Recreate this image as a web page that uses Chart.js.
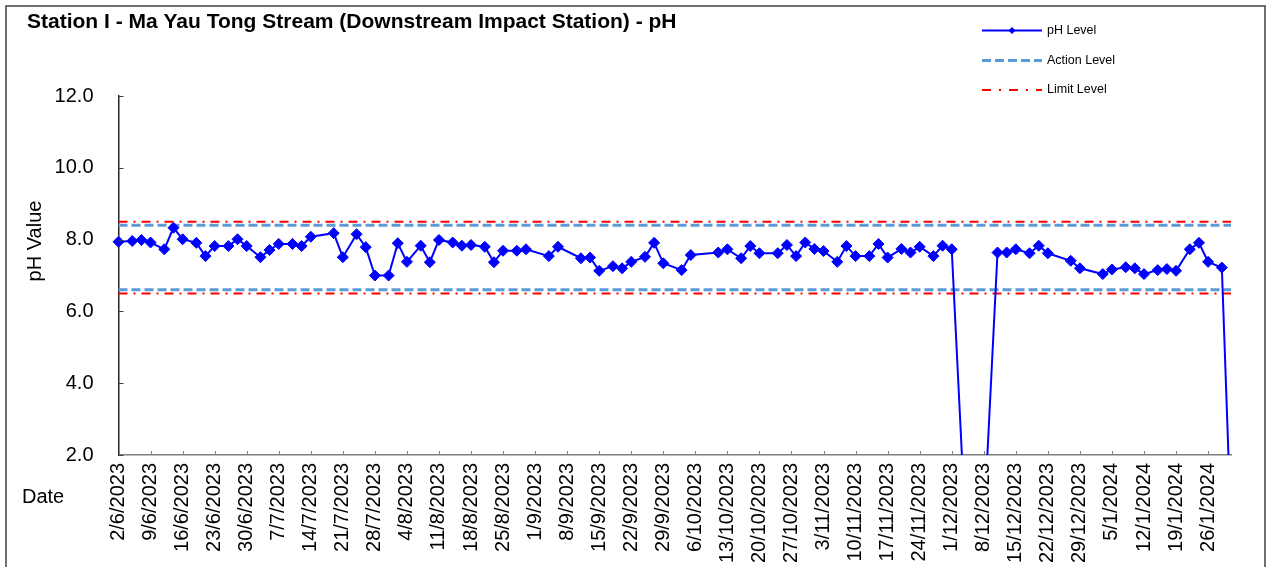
<!DOCTYPE html>
<html>
<head>
<meta charset="utf-8">
<script src="https://cdn.jsdelivr.net/npm/chart.js@4.4.0/dist/chart.umd.min.js"></script>
<style>
html,body{margin:0;padding:0;background:#fff;overflow:hidden}
#wrap{position:relative;width:1269px;height:567px}
canvas{display:block}
</style>
</head>
<body>
<div id="wrap"><canvas id="c" width="1269" height="567"></canvas></div>
<script>
// ---------------- data ----------------
const titleText = 'Station I - Ma Yau Tong Stream (Downstream Impact Station) - pH';
const yAxisTitle = 'pH Value';
const xAxisTitle = 'Date';
const seriesNames = ['pH Level', 'Action Level', 'Limit Level'];

const sampleDates = [
  '2/6/2023','5/6/2023','7/6/2023','9/6/2023','12/6/2023','14/6/2023','16/6/2023','19/6/2023','21/6/2023','23/6/2023',
  '26/6/2023','28/6/2023','30/6/2023','3/7/2023','5/7/2023','7/7/2023','10/7/2023','12/7/2023','14/7/2023','19/7/2023',
  '21/7/2023','24/7/2023','26/7/2023','28/7/2023','31/7/2023','2/8/2023','4/8/2023','7/8/2023','9/8/2023','11/8/2023',
  '14/8/2023','16/8/2023','18/8/2023','21/8/2023','23/8/2023','25/8/2023','28/8/2023','30/8/2023','4/9/2023','6/9/2023',
  '11/9/2023','13/9/2023','15/9/2023','18/9/2023','20/9/2023','22/9/2023','25/9/2023','27/9/2023','29/9/2023','3/10/2023',
  '5/10/2023','11/10/2023','13/10/2023','16/10/2023','18/10/2023','20/10/2023','24/10/2023','26/10/2023','28/10/2023','30/10/2023',
  '1/11/2023','3/11/2023','6/11/2023','8/11/2023','10/11/2023','13/11/2023','15/11/2023','17/11/2023','20/11/2023','22/11/2023',
  '24/11/2023','27/11/2023','29/11/2023','1/12/2023','4/12/2023','8/12/2023','11/12/2023','13/12/2023','15/12/2023','18/12/2023',
  '20/12/2023','22/12/2023','27/12/2023','29/12/2023','3/1/2024','5/1/2024','8/1/2024','10/1/2024','12/1/2024','15/1/2024',
  '17/1/2024','19/1/2024','22/1/2024','24/1/2024','26/1/2024','29/1/2024','31/1/2024'
];
const phValues = [
  7.94,7.96,7.99,7.92,7.73,8.33,8.01,7.91,7.54,7.82,
  7.82,8.01,7.82,7.51,7.71,7.88,7.88,7.82,8.08,8.18,
  7.51,8.15,7.79,7.00,7.00,7.90,7.38,7.83,7.37,7.99,
  7.92,7.83,7.85,7.80,7.37,7.69,7.69,7.73,7.54,7.80,
  7.48,7.50,7.13,7.26,7.20,7.38,7.52,7.91,7.34,7.15,
  7.57,7.64,7.73,7.48,7.82,7.62,7.62,7.85,7.54,7.92,
  7.74,7.68,7.38,7.82,7.54,7.54,7.88,7.50,7.74,7.64,
  7.80,7.54,7.83,7.73,0,0,7.64,7.64,7.73,7.62,
  7.83,7.62,7.41,7.20,7.04,7.17,7.23,7.20,7.04,7.15,
  7.18,7.13,7.73,7.91,7.38,7.22,0
];
const actionLevels = [8.4, 6.6];
const limitLevels = [8.5, 6.5];

const axisStart = '2/6/2023';
const axisEnd = '31/1/2024';
const xTickLabels = [
  '2/6/2023','9/6/2023','16/6/2023','23/6/2023','30/6/2023','7/7/2023','14/7/2023','21/7/2023','28/7/2023',
  '4/8/2023','11/8/2023','18/8/2023','25/8/2023','1/9/2023','8/9/2023','15/9/2023','22/9/2023','29/9/2023',
  '6/10/2023','13/10/2023','20/10/2023','27/10/2023','3/11/2023','10/11/2023','17/11/2023','24/11/2023',
  '1/12/2023','8/12/2023','15/12/2023','22/12/2023','29/12/2023','5/1/2024','12/1/2024','19/1/2024','26/1/2024'
];
const yTickValues = [2, 4, 6, 8, 10, 12];

// ---------------- helpers ----------------
const FONT = "'Liberation Sans', Arial, sans-serif";
function toUTC(s){ const p = s.split('/').map(Number); return Date.UTC(p[2], p[1]-1, p[0]); }
const originUTC = toUTC(axisStart);
function dayOf(s){ return Math.round((toUTC(s) - originUTC) / 86400000); }
const tickLabelByDay = {};
xTickLabels.forEach(t => { tickLabelByDay[dayOf(t)] = t; });
const levelLine = v => [{x: dayOf(axisStart), y: v}, {x: dayOf(axisEnd), y: v}];

const PH_COLOR = '#0000FF';
const ACTION_COLOR = '#5B9BD5';
const LIMIT_COLOR = '#FF0000';
const ACTION_DASH = [9, 4];
const LIMIT_DASH = [9, 6, 2, 6];

// ---------------- plugins ----------------
const decor = {
  id: 'decor',
  beforeDraw(chart){
    const ctx = chart.ctx;
    ctx.save();
    ctx.fillStyle = '#fff';
    ctx.fillRect(0, 0, chart.width, chart.height);
    ctx.strokeStyle = '#404040';
    ctx.lineWidth = 1.5;
    ctx.strokeRect(6, 6, 1259, 700);
    ctx.restore();
  },
  afterDraw(chart){
    const ctx = chart.ctx;
    const xs = chart.scales.x, ys = chart.scales.y;
    const a = chart.chartArea;
    ctx.save();
    // inside tick marks
    ctx.strokeStyle = '#404040';
    ctx.lineWidth = 1;
    ys.ticks.forEach(t => {
      const py = Math.round(ys.getPixelForValue(t.value)) + 0.5;
      ctx.beginPath(); ctx.moveTo(a.left, py); ctx.lineTo(a.left + 5, py); ctx.stroke();
    });
    ctx.strokeStyle = '#808080';
    xs.ticks.forEach(t => {
      const px = Math.round(xs.getPixelForValue(t.value)) + 0.5;
      ctx.beginPath(); ctx.moveTo(px, a.bottom); ctx.lineTo(px, a.bottom - 4); ctx.stroke();
    });
    // title
    ctx.fillStyle = '#000';
    ctx.textBaseline = 'middle';
    ctx.textAlign = 'left';
    ctx.font = "bold 21px " + FONT;
    ctx.fillText(titleText, 27, 22);
    // axis titles
    ctx.font = "20px " + FONT;
    ctx.fillText(xAxisTitle, 22, 497);
    ctx.save();
    ctx.translate(35, 241);
    ctx.rotate(-Math.PI / 2);
    ctx.textAlign = 'center';
    ctx.fillText(yAxisTitle, 0, 0);
    ctx.restore();
    // legend
    const lx0 = 982, lx1 = 1042, tx = 1047;
    const rows = [30.5, 60.5, 90];
    ctx.font = "12.5px " + FONT;
    // pH
    ctx.strokeStyle = PH_COLOR; ctx.lineWidth = 2; ctx.setLineDash([]);
    ctx.beginPath(); ctx.moveTo(lx0, rows[0]); ctx.lineTo(lx1, rows[0]); ctx.stroke();
    ctx.fillStyle = PH_COLOR;
    const cx = (lx0 + lx1) / 2, r = 3.5;
    ctx.beginPath(); ctx.moveTo(cx - r, rows[0]); ctx.lineTo(cx, rows[0] - r); ctx.lineTo(cx + r, rows[0]); ctx.lineTo(cx, rows[0] + r); ctx.closePath(); ctx.fill();
    // action
    ctx.strokeStyle = ACTION_COLOR; ctx.lineWidth = 3; ctx.setLineDash(ACTION_DASH);
    ctx.beginPath(); ctx.moveTo(lx0, rows[1]); ctx.lineTo(lx1, rows[1]); ctx.stroke();
    // limit
    ctx.strokeStyle = LIMIT_COLOR; ctx.lineWidth = 2; ctx.setLineDash([9, 8, 2, 8]);
    ctx.beginPath(); ctx.moveTo(lx0, rows[2]); ctx.lineTo(lx1, rows[2]); ctx.stroke();
    ctx.setLineDash([]);
    ctx.fillStyle = '#000';
    ctx.textAlign = 'left';
    seriesNames.forEach((n, i) => ctx.fillText(n, tx, rows[i]));
    ctx.restore();
  }
};

// ---------------- chart ----------------
const lvlStyle = (color, width, dash, ord) => ({
  borderColor: color, backgroundColor: color, borderWidth: width, borderDash: dash,
  pointRadius: 0, pointHoverRadius: 0, tension: 0, order: ord, clip: 4, fill: false
});

new Chart(document.getElementById('c'), {
  type: 'line',
  data: {
    datasets: [
      Object.assign({
        label: seriesNames[0],
        data: sampleDates.map((d, i) => ({x: dayOf(d), y: phValues[i]})),
        borderColor: PH_COLOR, backgroundColor: PH_COLOR, borderWidth: 2,
        pointStyle: 'rectRot', pointRadius: 5.5, pointHoverRadius: 5.5, pointBorderWidth: 1,
        tension: 0, order: 0, fill: false,
        clip: {left: 10, top: 10, right: 10, bottom: 0}
      }),
      Object.assign({label: seriesNames[1], data: levelLine(actionLevels[0])}, lvlStyle(ACTION_COLOR, 3, ACTION_DASH, 2)),
      Object.assign({label: seriesNames[1] + ' (lower)', data: levelLine(actionLevels[1])}, lvlStyle(ACTION_COLOR, 3, ACTION_DASH, 2)),
      Object.assign({label: seriesNames[2], data: levelLine(limitLevels[0])}, lvlStyle(LIMIT_COLOR, 2, LIMIT_DASH, 1)),
      Object.assign({label: seriesNames[2] + ' (lower)', data: levelLine(limitLevels[1])}, lvlStyle(LIMIT_COLOR, 2, LIMIT_DASH, 1))
    ]
  },
  options: {
    responsive: false,
    animation: false,
    events: [],
    layout: {padding: {left: 0, top: 96, right: 38, bottom: 0}},
    plugins: {legend: {display: false}, tooltip: {enabled: false}, title: {display: false}},
    scales: {
      x: {
        type: 'linear',
        min: dayOf(axisStart),
        max: dayOf(axisEnd),
        afterBuildTicks: s => { s.ticks = xTickLabels.map(t => ({value: dayOf(t)})); },
        afterFit: s => { s.height = 112; },
        ticks: {
          autoSkip: false, minRotation: 90, maxRotation: 90, padding: 8,
          color: '#000', font: {family: FONT, size: 20},
          callback: v => tickLabelByDay[v] || ''
        },
        grid: {display: false, drawTicks: false},
        border: {display: true, color: '#7f7f7f', width: 1.5}
      },
      y: {
        type: 'linear',
        min: yTickValues[0],
        max: yTickValues[yTickValues.length - 1],
        afterBuildTicks: s => { s.ticks = yTickValues.map(v => ({value: v})); },
        afterFit: s => { s.width = 118.5; },
        ticks: {
          padding: 25, color: '#000', font: {family: FONT, size: 20},
          callback: v => Number(v).toFixed(1)
        },
        grid: {display: false, drawTicks: false},
        border: {display: true, color: '#262626', width: 1.5}
      }
    }
  },
  plugins: [decor]
});
</script>
</body>
</html>
